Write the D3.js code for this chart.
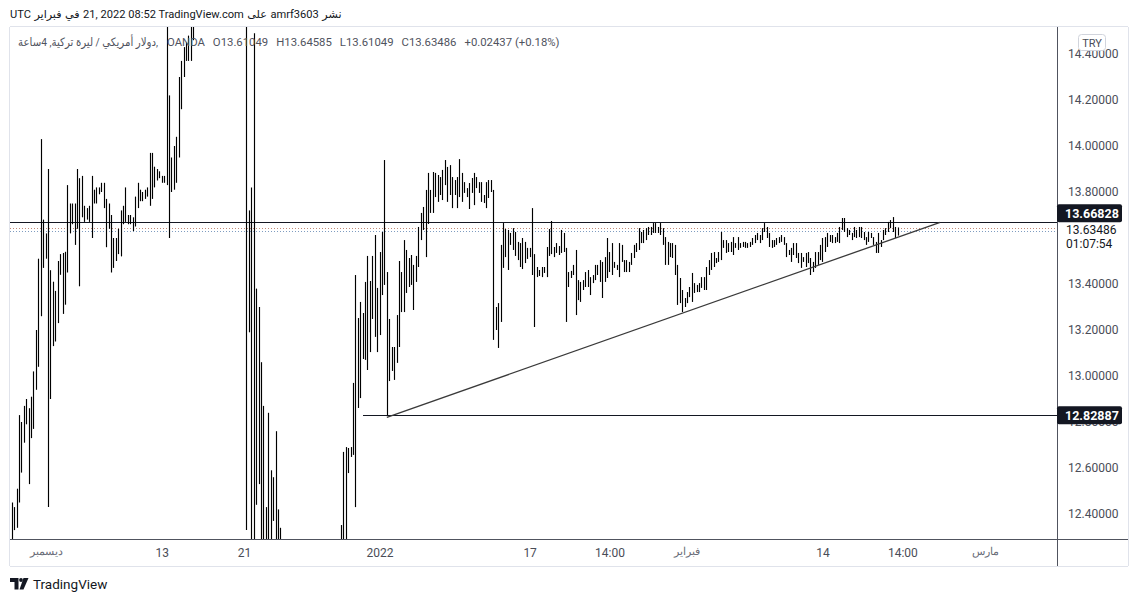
<!DOCTYPE html>
<html><head><meta charset="utf-8">
<script src="https://cdn.jsdelivr.net/npm/d3@7"></script>
<style>
body{margin:0;background:#fff}
svg{display:block;font-family:Roboto,"Noto Sans","DejaVu Sans",sans-serif}
</style></head>
<body><svg id="c" width="1137" height="602"></svg>
<script>
// ---- DATA (USD/TRY, 4h bars, OANDA) ----
const barHigh = [
12.45,12.43,12.51,12.83,12.80,12.87,12.90,12.86,12.91,13.02,
13.20,13.51,14.03,13.68,13.62,13.90,13.46,13.41,13.37,13.50,
13.53,13.535,13.54,13.83,13.75,13.75,13.75,13.90,13.86,13.87,
13.74,13.73,13.74,13.87,13.81,13.82,13.82,13.84,13.84,13.77,
13.75,13.70,13.60,13.60,13.64,13.72,13.74,13.82,13.70,13.70,
13.69,13.78,13.84,13.81,13.80,13.81,13.82,13.97,13.97,13.91,
13.90,13.89,13.87,13.87,14.60,14.22,13.95,14.00,14.04,14.30,
14.37,14.43,14.45,14.48,14.55,14.62,14.95,15.10,15.30,15.45,
15.60,15.55,15.80,16.40,16.60,16.50,16.70,16.50,17.20,17.60,
17.90,18.36,18.10,17.90,17.60,17.30,16.90,16.00,13.72,13.82,
14.49,13.38,13.30,13.06,12.87,12.43,12.84,12.59,12.56,12.76,
12.42,12.34,12.20,12.00,11.80,11.60,11.40,11.20,11.00,10.90,
11.20,11.40,11.50,11.60,11.70,11.80,11.90,12.00,12.10,12.20,
12.15,12.20,12.25,12.27,12.27,12.27,12.352,12.670,12.691,12.687,
12.691,12.970,13.439,13.252,13.322,13.274,13.409,13.522,13.413,13.522,
13.613,13.383,13.539,13.626,13.939,13.452,13.248,13.126,13.126,13.265,
13.500,13.452,13.591,13.548,13.513,13.526,13.483,13.522,13.648,13.709,
13.735,13.809,13.883,13.809,13.887,13.883,13.874,13.865,13.896,13.939,
13.909,13.917,13.865,13.852,13.865,13.943,13.883,13.843,13.817,13.839,
13.861,13.883,13.865,13.843,13.843,13.787,13.843,13.852,13.852,13.809,
13.300,13.317,13.570,13.665,13.639,13.635,13.622,13.643,13.626,13.583,
13.578,13.600,13.583,13.557,13.557,13.730,13.530,13.474,13.461,13.474,
13.474,13.561,13.639,13.674,13.561,13.578,13.565,13.635,13.622,13.557,
13.452,13.457,13.483,13.548,13.417,13.409,13.417,13.452,13.461,13.430,
13.439,13.483,13.483,13.504,13.496,13.517,13.600,13.539,13.578,13.496,
13.483,13.578,13.570,13.504,13.504,13.496,13.535,13.570,13.578,13.643,
13.626,13.635,13.643,13.648,13.648,13.665,13.665,13.648,13.665,13.643,
13.604,13.583,13.578,13.578,13.570,13.483,13.426,13.374,13.339,13.365,
13.387,13.448,13.404,13.396,13.404,13.430,13.430,13.474,13.504,13.535,
13.539,13.513,13.539,13.626,13.591,13.591,13.578,13.583,13.604,13.578,
13.604,13.578,13.583,13.583,13.578,13.583,13.600,13.613,13.622,13.613,
13.643,13.665,13.648,13.622,13.591,13.591,13.600,13.604,13.613,13.604,
13.578,13.548,13.557,13.578,13.578,13.535,13.535,13.517,13.535,13.539,
13.513,13.496,13.539,13.539,13.570,13.600,13.604,13.622,13.613,13.613,
13.604,13.622,13.648,13.687,13.687,13.643,13.635,13.622,13.648,13.635,
13.648,13.648,13.626,13.604,13.626,13.622,13.604,13.583,13.622,13.591,
13.635,13.643,13.670,13.678,13.691,13.648,13.64585
];
const barLow = [
12.25,12.33,12.34,12.45,12.58,12.71,12.79,12.53,12.73,12.77,
12.94,13.04,13.26,13.47,13.51,12.43,12.90,13.13,13.15,13.23,
13.44,13.27,13.31,13.45,13.62,13.66,13.57,13.64,13.39,13.69,
13.67,13.68,13.67,13.60,13.75,13.75,13.79,13.80,13.73,13.56,
13.64,13.45,13.47,13.50,13.53,13.52,13.66,13.67,13.66,13.66,
13.63,13.65,13.73,13.76,13.76,13.77,13.78,13.74,13.77,13.82,
13.85,13.86,13.84,13.84,13.83,13.60,13.80,13.81,13.84,13.95,
14.16,14.30,14.37,14.37,14.37,14.46,14.56,14.85,15.00,15.15,
15.30,15.30,15.40,15.70,16.10,16.00,16.20,16.05,16.60,17.00,
17.30,17.60,17.50,17.20,16.90,16.50,15.20,12.33,13.19,12.20,
12.20,12.44,12.53,12.20,12.20,12.20,12.20,12.20,12.37,12.20,
12.20,12.20,11.60,11.40,11.20,11.00,10.80,10.60,10.30,10.40,
10.70,10.90,11.10,11.20,11.30,11.40,11.50,11.60,11.70,11.80,
11.80,11.85,11.95,12.00,12.05,12.10,12.10,12.15,12.20,12.578,
12.648,12.657,12.430,12.861,12.904,13.074,13.070,13.026,13.104,13.248,
13.170,13.104,13.178,13.352,13.396,12.82887,12.978,13.022,12.983,13.057,
13.126,13.278,13.278,13.361,13.387,13.396,13.287,13.409,13.474,13.591,
13.635,13.517,13.661,13.709,13.709,13.778,13.757,13.787,13.765,13.830,
13.757,13.787,13.730,13.787,13.730,13.778,13.757,13.796,13.778,13.726,
13.796,13.743,13.817,13.796,13.757,13.752,13.730,13.774,13.800,13.157,
13.200,13.122,13.235,13.470,13.517,13.461,13.570,13.548,13.522,13.504,
13.474,13.465,13.491,13.509,13.517,13.439,13.213,13.430,13.435,13.430,
13.448,13.430,13.522,13.530,13.517,13.535,13.526,13.535,13.539,13.235,
13.387,13.426,13.439,13.265,13.330,13.322,13.374,13.387,13.387,13.352,
13.404,13.417,13.439,13.409,13.339,13.409,13.426,13.452,13.439,13.470,
13.461,13.430,13.496,13.452,13.452,13.452,13.483,13.513,13.539,13.548,
13.578,13.578,13.591,13.613,13.613,13.622,13.622,13.622,13.613,13.570,
13.483,13.483,13.517,13.513,13.439,13.309,13.317,13.278,13.300,13.317,
13.343,13.322,13.361,13.365,13.365,13.383,13.374,13.374,13.439,13.461,
13.474,13.491,13.496,13.504,13.557,13.535,13.539,13.539,13.526,13.557,
13.548,13.557,13.561,13.557,13.557,13.561,13.570,13.578,13.591,13.578,
13.591,13.626,13.600,13.561,13.557,13.561,13.570,13.578,13.583,13.570,
13.517,13.526,13.496,13.526,13.513,13.491,13.470,13.496,13.474,13.491,
13.439,13.452,13.470,13.483,13.504,13.496,13.539,13.561,13.583,13.578,
13.578,13.583,13.578,13.635,13.626,13.604,13.613,13.591,13.604,13.600,
13.604,13.600,13.591,13.570,13.583,13.600,13.570,13.535,13.535,13.561,
13.591,13.613,13.626,13.643,13.626,13.600,13.61049
];
const timeTickIndex = [14, 62, 96, 152, 214, 247, 279, 335, 368, 402];
const timeTickLabel = ["ديسمبر", "13", "21", "2022", "17", "14:00", "فبراير", "14", "14:00", "مارس"];
const priceTicks = [12.4, 12.6, 12.8, 13.0, 13.2, 13.4, 13.8, 14.0, 14.2, 14.4];
const resistanceLevel = 13.66828;
const supportLevel = 12.82887;
const supportStartIndex = 145.3;
const trendStart = {i: 155, p: 12.82};
const trendEnd = {i: 383.6, p: 13.66828};
const askPrice = 13.6425;
const bidPrice = 13.6305;
const lastClose = 13.63486;
const countdown = "01:07:54";
const headerPieces = ["UTC", "فبراير", "في", "21, 2022 08:52 TradingView.com", "على", "amrf3603", "نشر"];
const legendName = "دولار أمريكي / ليرة تركية, 4ساعة,";
const legendValues = ["OANDA", "O13.61049", "H13.64585", "L13.61049", "C13.63486", "+0.02437 (+0.18%)"];

// ---- LAYOUT ----
const pane = {l: 10, r: 1057, t: 27, b: 539};
const axisRight = 1128, timeBottom = 566;
const svg = d3.select("#c");
const x = d3.scaleLinear().domain([-0.7, 431.9]).range([pane.l, pane.r]);
const y = d3.scaleLinear().domain([12.2913, 14.5174]).range([pane.b, pane.t]);
const px = v => Math.round(v) + 0.5;

svg.append("rect").attr("width", 1137).attr("height", 602).attr("fill", "#fff");

// frame
const frame = svg.append("g").attr("stroke", "#e0e3eb").attr("shape-rendering", "crispEdges");
frame.append("line").attr("x1", pane.l).attr("x2", axisRight).attr("y1", pane.t - 0.5).attr("y2", pane.t - 0.5);
frame.append("line").attr("x1", pane.l - 0.5).attr("x2", pane.l - 0.5).attr("y1", pane.t).attr("y2", timeBottom);
frame.append("line").attr("x1", pane.l).attr("x2", axisRight).attr("y1", timeBottom + 0.5).attr("y2", timeBottom + 0.5);
frame.append("line").attr("x1", axisRight + 0.5).attr("x2", axisRight + 0.5).attr("y1", pane.t).attr("y2", timeBottom);

svg.append("clipPath").attr("id", "pc").append("rect")
  .attr("x", pane.l).attr("y", pane.t).attr("width", pane.r - pane.l).attr("height", pane.b - pane.t);
const plot = svg.append("g").attr("clip-path", "url(#pc)");

// bid / ask dotted lines
[[askPrice, "#c08a78"], [bidPrice, "#7f9cc0"]].forEach(([p, c]) => {
  plot.append("line").attr("x1", pane.l).attr("x2", pane.r)
    .attr("y1", px(y(p))).attr("y2", px(y(p)))
    .attr("stroke", c).attr("stroke-width", 1).attr("stroke-dasharray", "1,2")
    .attr("shape-rendering", "crispEdges");
});

// horizontal levels
plot.append("line").attr("x1", pane.l).attr("x2", pane.r)
  .attr("y1", px(y(resistanceLevel))).attr("y2", px(y(resistanceLevel)))
  .attr("stroke", "#131722").attr("stroke-width", 1).attr("shape-rendering", "crispEdges");
plot.append("line").attr("x1", x(supportStartIndex)).attr("x2", pane.r)
  .attr("y1", px(y(supportLevel))).attr("y2", px(y(supportLevel)))
  .attr("stroke", "#131722").attr("stroke-width", 1).attr("shape-rendering", "crispEdges");

// bars (high-low)
const bars = barHigh.map((h, i) => ({i, h, l: barLow[i]}));
plot.append("g").selectAll("line").data(bars).join("line")
  .attr("x1", d => px(x(d.i))).attr("x2", d => px(x(d.i)))
  .attr("y1", d => y(d.h)).attr("y2", d => y(d.l))
  .attr("stroke", "#000").attr("stroke-width", 1.15);

// trend line
plot.append("line")
  .attr("x1", x(trendStart.i)).attr("y1", y(trendStart.p))
  .attr("x2", x(trendEnd.i)).attr("y2", y(trendEnd.p))
  .attr("stroke", "#3a3a3a").attr("stroke-width", 1.3);

// axes lines
const axLine = svg.append("g").attr("stroke", "#50535e").attr("shape-rendering", "crispEdges");
axLine.append("line").attr("x1", pane.l).attr("x2", axisRight).attr("y1", pane.b + 0.5).attr("y2", pane.b + 0.5);
axLine.append("line").attr("x1", pane.r + 0.5).attr("x2", pane.r + 0.5).attr("y1", pane.t).attr("y2", timeBottom);

// price axis
const pa = svg.append("g").attr("transform", `translate(${pane.r},0)`)
  .call(d3.axisRight(y).tickValues(priceTicks).tickFormat(d3.format(".5f")).tickSize(0).tickPadding(11));
pa.select(".domain").remove();
pa.selectAll("text").attr("font-size", 12).attr("fill", "#4a4d57").attr("font-family", "Roboto, sans-serif");

// time axis
const ta = svg.append("g").attr("transform", `translate(0,${pane.b})`)
  .call(d3.axisBottom(x).tickValues(timeTickIndex).tickFormat((d, i) => timeTickLabel[i]).tickSize(0).tickPadding(9));
ta.select(".domain").remove();
ta.selectAll("text").attr("font-size", 12).attr("fill", "#4a4d57").attr("font-family", "Roboto, sans-serif")
  .filter((d, i) => /[\u0600-\u06FF]/.test(timeTickLabel[i])).attr("font-size", 10.5).attr("fill", "#6a6d78");

// TRY box
svg.append("rect").attr("x", 1078.5).attr("y", 34.5).attr("width", 27).attr("height", 16).attr("rx", 3)
  .attr("fill", "#fff").attr("stroke", "#d1d4dc");
svg.append("text").attr("x", 1092).attr("y", 46.5).attr("text-anchor", "middle")
  .attr("font-size", 11).attr("fill", "#4a4d57").text("TRY");

// last price texts
svg.append("text").attr("x", 1066).attr("y", y(lastClose) + 4.5).attr("font-size", 12).attr("fill", "#131722").text(d3.format(".5f")(lastClose));
svg.append("text").attr("x", 1066).attr("y", y(lastClose) + 18).attr("font-size", 12).attr("fill", "#131722").text(countdown);

// level labels
function levelLabel(p, cy) {
  svg.append("rect").attr("x", pane.r).attr("y", cy - 9).attr("width", 65).attr("height", 18).attr("rx", 2)
    .attr("fill", "#131722");
  svg.append("text").attr("x", 1065).attr("y", cy + 4.5).attr("font-size", 12.5).attr("font-weight", "bold")
    .attr("fill", "#fff").text(d3.format(".5f")(p));
}
levelLabel(resistanceLevel, y(resistanceLevel) - 9);
levelLabel(supportLevel, y(supportLevel));

// header line 1 (pieces placed left to right, fitted to span 10..342)
function placeRow(pieces, x0, x1, yy, gap, fill) {
  const g = svg.append("g");
  const els = pieces.map(t => g.append("text").attr("y", yy).attr("font-size", 12)
    .attr("fill", fill).attr("direction", "ltr").text(t));
  const w = els.reduce((s, e) => s + e.node().getComputedTextLength(), 0);
  const fs = 12 * (x1 - x0 - gap * (pieces.length - 1)) / w;
  let xx = x0;
  els.forEach(e => {
    e.attr("font-size", fs).attr("x", xx);
    xx += e.node().getComputedTextLength() + gap;
  });
}
placeRow(headerPieces, 10, 342, 18, 3.5, "#131722");

// legend line 2
svg.append("text").attr("x", 18).attr("y", 46).attr("font-size", 11.5)
  .attr("textLength", 140).attr("lengthAdjust", "spacingAndGlyphs")
  .attr("fill", "#50535e").text(legendName);
placeRow(legendValues, 167, 560, 46, 8, "#50535e");

// TradingView logo
const logo = svg.append("g").attr("fill", "#131722");
logo.append("path").attr("d", "M10 578 h8.5 v11.5 h-4 v-7.5 h-4.5 z");
logo.append("circle").attr("cx", 21).attr("cy", 580).attr("r", 1.9);
logo.append("path").attr("d", "M23.5 578 h5 l-5 11.5 h-4 z");
svg.append("text").attr("x", 33).attr("y", 589).attr("font-size", 13.5).attr("fill", "#131722").text("TradingView");
</script>
</body></html>
